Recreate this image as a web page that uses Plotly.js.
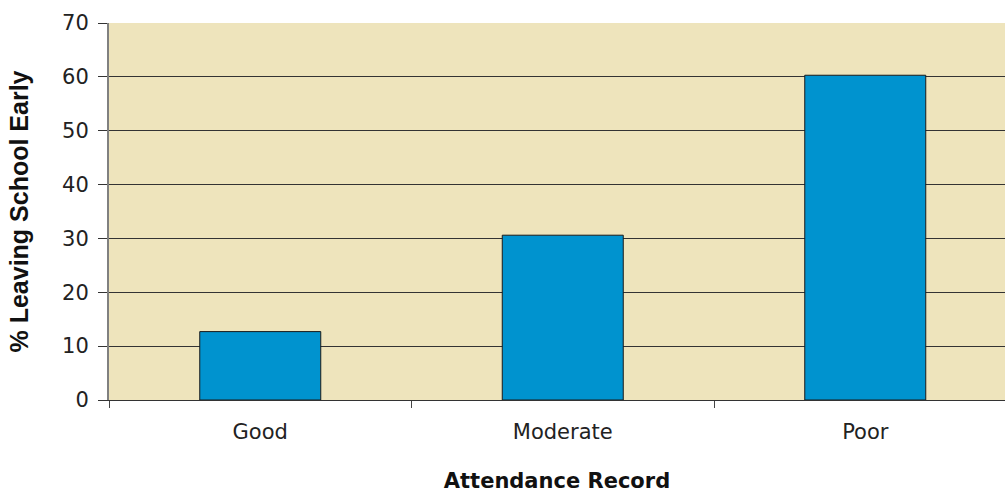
<!DOCTYPE html>
<html>
<head>
<meta charset="utf-8">
<script src="https://cdn.plot.ly/plotly-3.0.1.min.js"></script>
<style>
  html, body { margin: 0; padding: 0; background: #ffffff; }
  #chart { width: 1005px; height: 493px; }
</style>
</head>
<body>
<div id="chart"></div>
<script>
// Early school leaving by attendance record
const categories = ["Good", "Moderate", "Poor"];
const leavingEarly = [12.7, 30.6, 60.3];
const yTicks = [0, 10, 20, 30, 40, 50, 60, 70];

const trace = {
  type: "bar",
  x: categories,
  y: leavingEarly,
  width: 0.4,
  marker: {
    color: "#0093CF",
    line: { color: "#1a1a1a", width: 1 }
  },
  hoverinfo: "x+y"
};

const layout = {
  width: 1005,
  height: 493,
  margin: { l: 109, r: 0, t: 23, b: 93 },
  paper_bgcolor: "#ffffff",
  plot_bgcolor: "#EEE4BC",
  font: { family: "DejaVu Sans, Verdana, sans-serif", size: 21, color: "#222222" },
  showlegend: false,
  xaxis: {
    type: "category",
    range: [-0.5, 2.462],
    tickson: "boundaries",
    ticks: "outside",
    ticklen: 7,
    tickcolor: "#444444",
    showline: true,
    linecolor: "#333333",
    linewidth: 1,
    showgrid: false,
    zeroline: false,
    ticklabelstandoff: 13,
    tickfont: { size: 21, color: "#222222" },
    title: {
      text: "<b>Attendance Record</b>",
      font: { size: 21, color: "#111111" },
      standoff: 40
    }
  },
  yaxis: {
    range: [0, 70],
    tickvals: yTicks,
    ticktext: yTicks.map(String),
    ticks: "outside",
    ticklen: 9,
    tickcolor: "#333333",
    showline: true,
    linecolor: "#808080",
    linewidth: 2,
    showgrid: true,
    gridcolor: "#333333",
    gridwidth: 1,
    zeroline: false,
    ticklabelstandoff: 5,
    tickfont: { size: 21, color: "#222222" },
    title: {
      text: "<b>% Leaving School Early</b>",
      font: { family: "Liberation Sans, Arial, sans-serif", size: 25, color: "#111111" },
      standoff: 26
    }
  }
};

Plotly.newPlot("chart", [trace], layout, { displayModeBar: false, staticPlot: true });
</script>
</body>
</html>
